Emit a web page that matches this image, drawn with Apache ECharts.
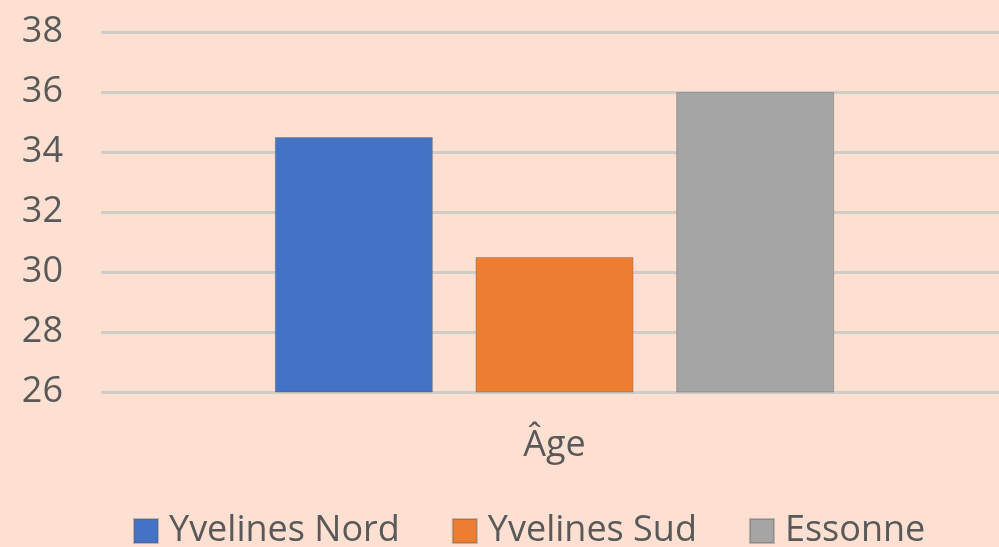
<!DOCTYPE html>
<html>
<head>
<meta charset="utf-8">
<script src="https://cdn.jsdelivr.net/npm/echarts@6/dist/echarts.min.js"></script>
<style>
html,body{margin:0;padding:0;background:#FDE0D1;}
#chart{width:999px;height:547px;}
</style>
</head>
<body>
<div id="chart"></div>
<script>
const categories = ['Âge'];
const seriesNames = ['Yvelines Nord', 'Yvelines Sud', 'Essonne'];
const yvelinesNord = [34.5];
const yvelinesSud = [30.5];
const essonne = [36.0];
const yTicks = [26, 28, 30, 32, 34, 36, 38];

const colors = ['#4472C4', '#ED7D31', '#A5A5A5'];
const dataSets = [yvelinesNord, yvelinesSud, essonne];
const font = '"Open Sans", sans-serif';
const textColor = '#595959';
const yMin = yTicks[0], yMax = yTicks[yTicks.length - 1];

const chart = echarts.init(document.getElementById('chart'));
chart.setOption({
  backgroundColor: '#FDE0D1',
  animation: false,
  grid: [
    { left: 101, right: 0, top: 32, height: 360, containLabel: false },
    { left: 110, right: 0, top: 32, height: 360, containLabel: false }
  ],
  legend: {
    data: seriesNames,
    top: 513,
    left: 133,
    padding: 0,
    itemWidth: 24,
    itemHeight: 24,
    itemGap: 52,
    icon: 'rect',
    textStyle: { fontFamily: font, fontSize: 36, color: textColor, padding: [0, 0, 0, 6] }
  },
  xAxis: [
    { gridIndex: 0, type: 'category', data: categories, show: false },
    {
      gridIndex: 1,
      type: 'category',
      data: categories,
      axisLine: { show: false },
      axisTick: { show: false },
      axisLabel: { margin: 36, fontFamily: font, fontSize: 36, color: textColor }
    }
  ],
  yAxis: [
    {
      gridIndex: 0,
      type: 'value',
      min: yMin,
      max: yMax,
      interval: 2,
      axisLine: { show: false },
      axisTick: { show: false },
      axisLabel: { margin: 38, fontFamily: font, fontSize: 36, color: textColor },
      splitLine: { lineStyle: { color: '#D2CCC7', width: 3 } }
    },
    {
      gridIndex: 1,
      type: 'value',
      min: yMin,
      max: yMax,
      interval: 2,
      show: false,
      splitLine: { show: false }
    }
  ],
  series: seriesNames.map((name, i) => ({
    name: name,
    type: 'bar',
    xAxisIndex: 1,
    yAxisIndex: 1,
    data: dataSets[i],
    barWidth: 158,
    barGap: '27%',
    itemStyle: { color: colors[i], borderColor: 'rgba(90,90,90,0.35)', borderWidth: 1 }
  }))
});
</script>
</body>
</html>
